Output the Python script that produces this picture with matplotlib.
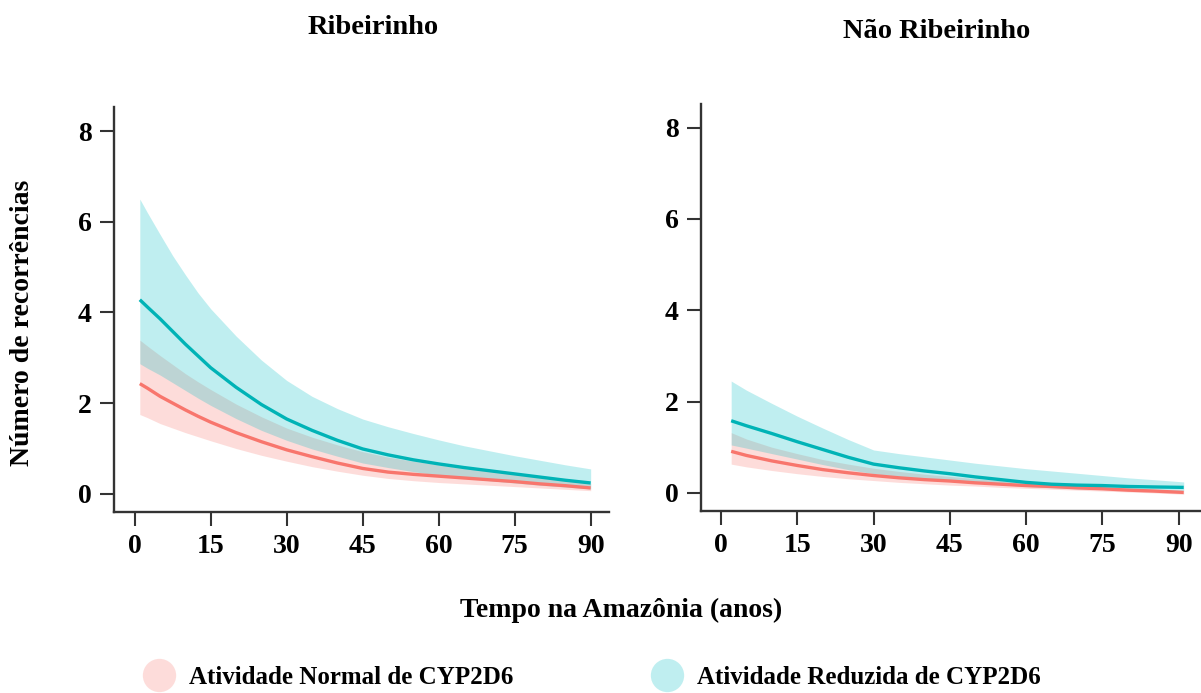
import matplotlib
matplotlib.use("Agg")
from matplotlib import pyplot as plt
from matplotlib.lines import Line2D

plt.rcParams['font.family'] = ['Liberation Serif', 'DejaVu Serif']
plt.rcParams['font.weight'] = 'bold'

# tempo na Amazonia (anos)
left_x = [1, 2.5, 5, 7.5, 10, 12.5, 15, 20, 25, 30, 35, 40, 45, 50, 55, 60, 65, 70, 75, 80, 85, 90]
right_x = [2, 5, 10, 15, 20, 25, 30, 35, 40, 45, 50, 55, 60, 65, 70, 75, 80, 85, 91]

# Ribeirinho - atividade normal
rib_norm = [2.43, 2.33, 2.15, 2.00, 1.85, 1.71, 1.58, 1.35, 1.15, 0.97, 0.82, 0.68, 0.56, 0.48, 0.43, 0.39, 0.35, 0.31, 0.27, 0.22, 0.18, 0.13]
rib_norm_hi = [3.39, 3.26, 3.05, 2.85, 2.65, 2.47, 2.30, 1.98, 1.70, 1.45, 1.25, 1.08, 0.93, 0.81, 0.72, 0.64, 0.57, 0.50, 0.44, 0.38, 0.31, 0.23]
rib_norm_lo = [1.75, 1.68, 1.55, 1.45, 1.35, 1.26, 1.17, 1.00, 0.85, 0.72, 0.60, 0.50, 0.41, 0.34, 0.29, 0.25, 0.22, 0.19, 0.16, 0.13, 0.10, 0.07]
# Ribeirinho - atividade reduzida
rib_red = [4.28, 4.12, 3.86, 3.58, 3.30, 3.04, 2.78, 2.35, 1.97, 1.65, 1.40, 1.18, 0.99, 0.86, 0.75, 0.66, 0.58, 0.51, 0.44, 0.37, 0.30, 0.24]
rib_red_hi = [6.50, 6.20, 5.72, 5.25, 4.83, 4.43, 4.08, 3.48, 2.95, 2.50, 2.15, 1.88, 1.65, 1.48, 1.33, 1.19, 1.06, 0.95, 0.84, 0.74, 0.64, 0.55]
rib_red_lo = [2.87, 2.77, 2.62, 2.45, 2.28, 2.11, 1.95, 1.66, 1.40, 1.18, 0.99, 0.83, 0.68, 0.58, 0.49, 0.41, 0.35, 0.29, 0.24, 0.19, 0.15, 0.11]

# Nao Ribeirinho - atividade normal
nrib_norm = [0.91, 0.82, 0.70, 0.60, 0.51, 0.44, 0.38, 0.33, 0.29, 0.26, 0.22, 0.19, 0.16, 0.14, 0.11, 0.09, 0.06, 0.04, 0.01]
nrib_norm_hi = [1.32, 1.18, 1.00, 0.86, 0.73, 0.63, 0.54, 0.47, 0.41, 0.36, 0.31, 0.27, 0.23, 0.20, 0.17, 0.14, 0.11, 0.08, 0.05]
nrib_norm_lo = [0.63, 0.57, 0.49, 0.42, 0.36, 0.31, 0.27, 0.23, 0.20, 0.17, 0.15, 0.12, 0.10, 0.08, 0.06, 0.04, 0.02, 0.00, -0.03]
# Nao Ribeirinho - atividade reduzida
nrib_red = [1.58, 1.47, 1.30, 1.12, 0.95, 0.78, 0.63, 0.55, 0.48, 0.42, 0.35, 0.29, 0.23, 0.19, 0.17, 0.16, 0.14, 0.13, 0.12]
nrib_red_hi = [2.45, 2.25, 1.96, 1.68, 1.42, 1.17, 0.94, 0.86, 0.79, 0.72, 0.65, 0.59, 0.53, 0.48, 0.43, 0.38, 0.33, 0.29, 0.24]
nrib_red_lo = [1.05, 0.98, 0.86, 0.74, 0.62, 0.51, 0.42, 0.36, 0.31, 0.27, 0.22, 0.18, 0.14, 0.11, 0.09, 0.08, 0.07, 0.06, 0.05]

labels = ['Atividade Normal de CYP2D6', 'Atividade Reduzida de CYP2D6']
col_norm = '#F8766D'
col_red = '#00BFC4'
line_red = '#00B3B6'
axis_col = '#333333'

fig = plt.figure(figsize=(12.01, 6.93), dpi=100)
ax1 = fig.add_axes([0.0949, 0.2612, 0.4121, 0.5844])
ax2 = fig.add_axes([0.5834, 0.2631, 0.4166, 0.5869])

panels = [
    (ax1, left_x, rib_norm, rib_norm_lo, rib_norm_hi, rib_red, rib_red_lo, rib_red_hi, (-4.1, 93.6), (-0.40, 8.53)),
    (ax2, right_x, nrib_norm, nrib_norm_lo, nrib_norm_hi, nrib_red, nrib_red_lo, nrib_red_hi, (-4.0, 94.4), (-0.39, 8.52)),
]

for ax, x, m1, lo1, hi1, m2, lo2, hi2, xl, yl in panels:
    ax.fill_between(x, lo1, hi1, color=col_norm, alpha=0.25, linewidth=0)
    ax.fill_between(x, lo2, hi2, color=col_red, alpha=0.25, linewidth=0)
    ax.plot(x, m1, color=col_norm, linewidth=2.4, solid_capstyle='butt')
    ax.plot(x, m2, color=line_red, linewidth=2.4, solid_capstyle='butt')
    ax.set_xlim(*xl)
    ax.set_ylim(*yl)
    ax.set_xticks([0, 15, 30, 45, 60, 75, 90])
    ax.set_yticks([0, 2, 4, 6, 8])
    for s in ['top', 'right']:
        ax.spines[s].set_visible(False)
    for s in ['left', 'bottom']:
        ax.spines[s].set_color(axis_col)
        ax.spines[s].set_linewidth(1.7)
    ax.tick_params(length=10, width=1.5, color=axis_col, labelsize=20, pad=6)
    for lab in ax.get_xticklabels() + ax.get_yticklabels():
        lab.set_fontweight('bold')

fig.text(0.3106, 1 - 27 / 693, 'Ribeirinho', ha='center', va='center', fontsize=20.5, fontweight='bold')
fig.text(0.7802, 1 - 32 / 693, 'Não Ribeirinho', ha='center', va='center', fontsize=20.5, fontweight='bold')
fig.text(0.517, 1 - 610 / 693, 'Tempo na Amazônia (anos)', ha='center', va='center', fontsize=20, fontweight='bold')
fig.text(0.019, 1 - 323 / 693, 'Número de recorrências', ha='center', va='center', rotation=90,
         fontsize=20, fontweight='bold')

handles = [
    Line2D([], [], linestyle='none', marker='o', markersize=24, markerfacecolor=col_norm, alpha=0.25,
           markeredgewidth=0),
    Line2D([], [], linestyle='none', marker='o', markersize=24, markerfacecolor=col_red, alpha=0.25,
           markeredgewidth=0),
]
fig.legend(handles, labels, loc='center', bbox_to_anchor=(0.4925, 1 - 677 / 693), ncol=2, frameon=False,
           prop={'size': 18, 'weight': 'bold'}, handlelength=1.35, handletextpad=0.52,
           columnspacing=5.45, borderpad=0, borderaxespad=0)

fig.savefig('out.png', dpi=100)
